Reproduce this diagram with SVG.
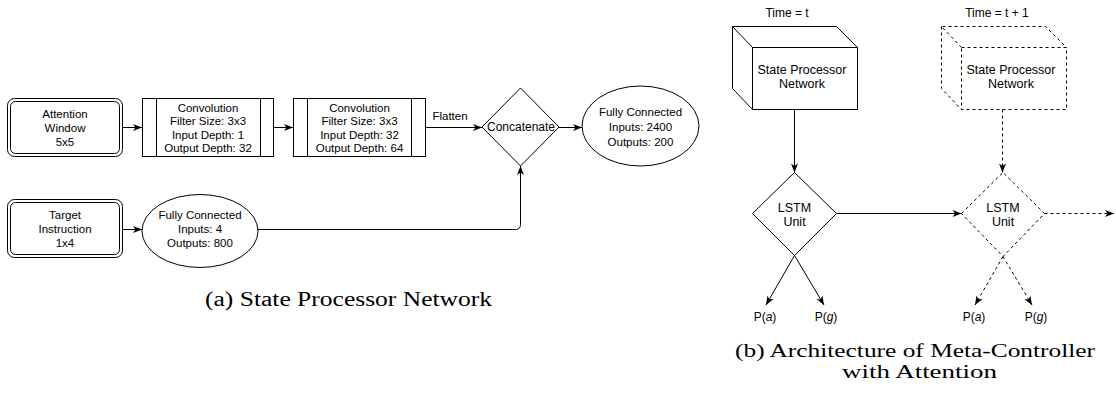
<svg xmlns="http://www.w3.org/2000/svg" width="1116" height="411" viewBox="0 0 1116 411">
<style>
.s{fill:#fff;stroke:#000;stroke-width:1}
.d{fill:#fff;stroke:#000;stroke-width:1;stroke-dasharray:3 3}
.t{font-family:"Liberation Sans",Arial,Helvetica,sans-serif;font-size:11.5px;fill:#000;text-anchor:middle}
.t12{font-family:"Liberation Sans",Arial,Helvetica,sans-serif;font-size:12px;fill:#000;text-anchor:middle}
.t125{font-family:"Liberation Sans",Arial,Helvetica,sans-serif;font-size:12.5px;fill:#000;text-anchor:middle}
.cap{font-family:"Liberation Serif","Times New Roman",serif;font-size:20px;fill:#000}
.capb{font-family:"Liberation Serif","Times New Roman",serif;font-size:18.5px;fill:#000}
.c{fill:none;stroke:#000;stroke-width:1;marker-end:url(#ah)}
.cd{fill:none;stroke:#000;stroke-width:1;stroke-dasharray:3 3;marker-end:url(#ah)}
</style>
<defs>
<marker id="ah" markerUnits="userSpaceOnUse" markerWidth="10" markerHeight="8" refX="9" refY="3.5" orient="auto" overflow="visible">
<path d="M0,0 L9,3.5 L0,7 L2.5,3.5 z" fill="#000" stroke="none"/>
</marker>
</defs>
<rect width="1116" height="411" fill="#fff"/>

<g id="attention-window">
<rect class="s" x="7.5" y="98.5" width="115" height="58" rx="7"/>
<rect class="s" x="10.5" y="101.5" width="109" height="52" rx="5"/>
<text class="t" x="65" y="118">Attention</text>
<text class="t" x="65" y="132">Window</text>
<text class="t" x="65" y="146">5x5</text>
</g>

<g id="conv1">
<rect class="s" x="142.5" y="98.5" width="131" height="58"/>
<line class="s" x1="156.5" y1="98.5" x2="156.5" y2="156.5"/>
<line class="s" x1="260.5" y1="98.5" x2="260.5" y2="156.5"/>
<text class="t" x="208" y="111.5">Convolution</text>
<text class="t" x="208" y="125">Filter Size: 3x3</text>
<text class="t" x="208" y="138.5">Input Depth: 1</text>
<text class="t" x="208" y="152">Output Depth: 32</text>
</g>

<g id="conv2">
<rect class="s" x="293.5" y="98.5" width="132" height="58"/>
<line class="s" x1="307.5" y1="98.5" x2="307.5" y2="156.5"/>
<line class="s" x1="411.5" y1="98.5" x2="411.5" y2="156.5"/>
<text class="t" x="359.5" y="111.5">Convolution</text>
<text class="t" x="359.5" y="125">Filter Size: 3x3</text>
<text class="t" x="359.5" y="138.5">Input Depth: 32</text>
<text class="t" x="359.5" y="152">Output Depth: 64</text>
</g>

<g id="concatenate">
<polygon class="s" points="482,127 520.5,88 559,127 520.5,166"/>
<text class="t12" x="521" y="131">Concatenate</text>
</g>

<g id="fc2400">
<ellipse class="s" cx="640.5" cy="126" rx="58.5" ry="40"/>
<text class="t" x="640.5" y="116">Fully Connected</text>
<text class="t" x="640.5" y="131">Inputs: 2400</text>
<text class="t" x="640.5" y="146">Outputs: 200</text>
</g>

<g id="target-instruction">
<rect class="s" x="7.5" y="199.5" width="115" height="58" rx="7"/>
<rect class="s" x="10.5" y="202.5" width="109" height="52" rx="5"/>
<text class="t" x="65" y="219">Target</text>
<text class="t" x="65" y="233">Instruction</text>
<text class="t" x="65" y="247">1x4</text>
</g>

<g id="fc800">
<ellipse class="s" cx="200" cy="231" rx="58" ry="36.5"/>
<text class="t" x="200" y="219">Fully Connected</text>
<text class="t" x="200" y="233">Inputs: 4</text>
<text class="t" x="200" y="247">Outputs: 800</text>
</g>

<g id="spn-t">
<text class="t12" x="787" y="17">Time = t</text>
<path class="s" d="M752.5,47.5 L732.5,26.5 L836.5,26.5 L857.5,47.5 M732.5,26.5 L732.5,88.5 L752.5,109.5"/>
<rect class="s" x="752.5" y="47.5" width="105" height="62"/>
<text class="t125" x="802" y="73.5">State Processor</text>
<text class="t125" x="802" y="87.5">Network</text>
</g>

<g id="spn-t1">
<text class="t12" x="997" y="17">Time = t + 1</text>
<path class="d" d="M961.5,47.5 L941.5,26.5 L1045.5,26.5 L1066.5,47.5 M941.5,26.5 L941.5,88.5 L961.5,109.5"/>
<rect class="d" x="961.5" y="47.5" width="105" height="62"/>
<text class="t125" x="1011" y="73.5">State Processor</text>
<text class="t125" x="1011" y="87.5">Network</text>
</g>

<g id="lstm-t">
<polygon class="s" points="752.5,213.5 794.5,172.5 836.5,213.5 794.5,255.5"/>
<text class="t125" x="794.5" y="211.5">LSTM</text>
<text class="t125" x="794.5" y="225.5">Unit</text>
</g>

<g id="lstm-t1">
<polygon class="d" points="961.5,213.5 1003,172.5 1044.5,213.5 1003,256.5"/>
<text class="t125" x="1003" y="211.5">LSTM</text>
<text class="t125" x="1003" y="225.5">Unit</text>
</g>

<g id="outputs">
<text class="t12" x="765" y="321">P(<tspan font-style="italic">a</tspan>)</text>
<text class="t12" x="826" y="321">P(<tspan font-style="italic">g</tspan>)</text>
<text class="t12" x="974" y="321">P(<tspan font-style="italic">a</tspan>)</text>
<text class="t12" x="1036" y="321">P(<tspan font-style="italic">g</tspan>)</text>
</g>

<g id="connectors">
<line class="c" x1="123" y1="127.5" x2="142" y2="127.5"/>
<line class="c" x1="274" y1="127.5" x2="293" y2="127.5"/>
<line class="c" x1="426" y1="127.5" x2="482" y2="127.5"/>
<text class="t" x="450" y="120">Flatten</text>
<line class="c" x1="559" y1="127.5" x2="582" y2="127.5"/>
<line class="c" x1="123" y1="229.5" x2="142" y2="229.5"/>
<path class="c" d="M258,229.5 L515.5,229.5 Q520.5,229.5 520.5,224.5 L520.5,166"/>
<line class="c" x1="794.5" y1="109.5" x2="794.5" y2="172.5"/>
<line class="c" x1="836.5" y1="213.5" x2="961.5" y2="213.5"/>
<line class="c" x1="794.5" y1="255.5" x2="766" y2="305"/>
<line class="c" x1="794.5" y1="255.5" x2="824" y2="305"/>
<line class="cd" x1="1002.5" y1="109.5" x2="1002.5" y2="172.5"/>
<line class="cd" x1="1044.5" y1="213.5" x2="1114" y2="213.5"/>
<line class="cd" x1="1003" y1="256.5" x2="975" y2="305"/>
<line class="cd" x1="1003" y1="256.5" x2="1032" y2="305"/>
</g>

<g id="captions">
<text class="cap" x="205" y="306" textLength="287" lengthAdjust="spacingAndGlyphs">(a) State Processor Network</text>
<text class="capb" x="735" y="357" textLength="360" lengthAdjust="spacingAndGlyphs">(b) Architecture of Meta-Controller</text>
<text class="capb" x="842" y="377.5" textLength="155" lengthAdjust="spacingAndGlyphs">with Attention</text>
</g>
</svg>
